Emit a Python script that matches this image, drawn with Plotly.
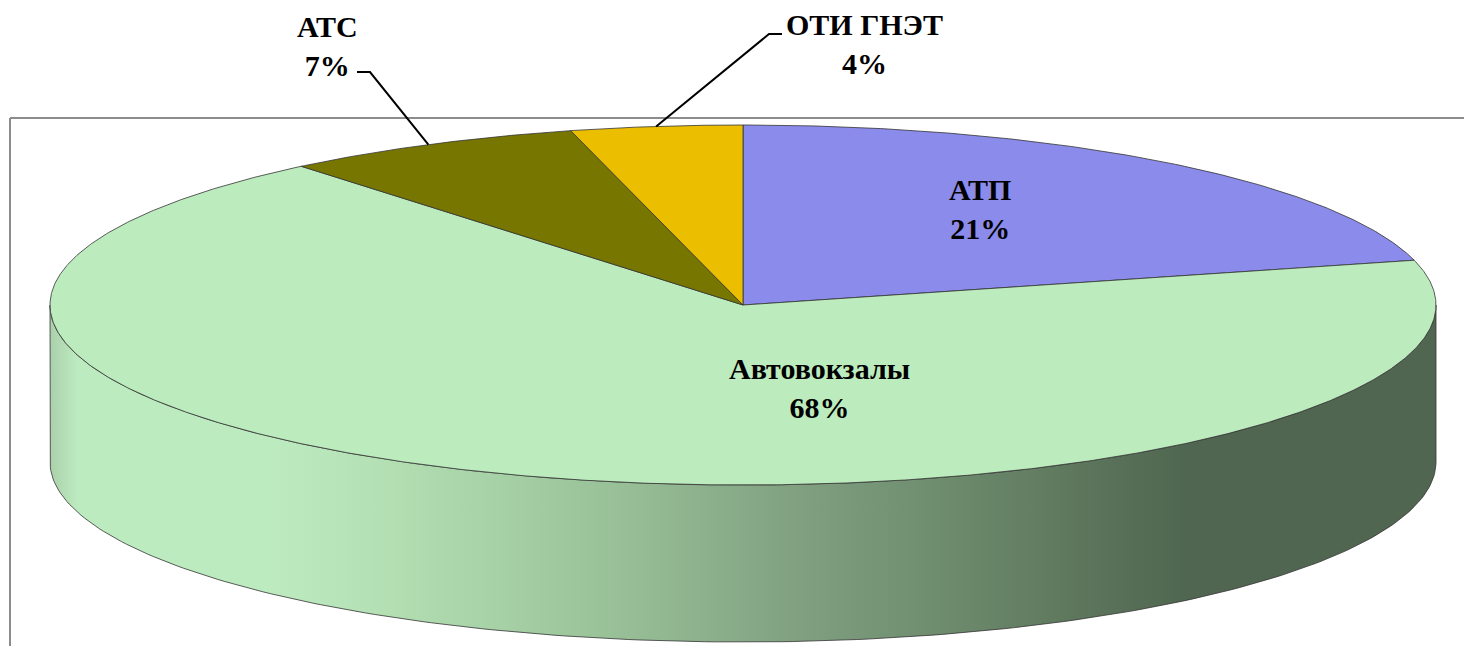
import numpy as np
import plotly.graph_objects as go

# ---- data ----
categories = ["АТП", "Автовокзалы", "АТС", "ОТИ ГНЭТ"]
shares = [21, 68, 7, 4]          # percent, clockwise from 12 o'clock
colors = ["#8B8BEB", "#BCECBE", "#767600", "#EBBE00"]

# ---- layout constants (pixel-like coordinates) ----
W, H = 1464, 646
CX, CY = 743, 305      # centre of top face
A, B = 693, 180        # ellipse radii
DEPTH = 157            # thickness of the pie
OUTLINE = "#333333"


def arc(t0, t1, n=200, dy=0.0):
    t = np.radians(np.linspace(t0, t1, n))
    return CX + A * np.sin(t), CY - B * np.cos(t) + dy


fig = go.Figure()

# ---- side wall (front half, belongs to the large slice) ----
xu, yu = arc(90, 270)
xl, yl = arc(270, 90, dy=DEPTH)
side_x = np.concatenate([xu, xl, xu[:1]])
side_y = np.concatenate([yu, yl, yu[:1]])
fig.add_trace(go.Scatter(
    x=side_x, y=side_y, mode="lines", fill="toself",
    line=dict(color=OUTLINE, width=0.8),
    fillgradient=dict(
        type="horizontal",
        colorscale=[
            [0.0, "rgb(170,208,170)"],
            [0.02, "rgb(189,235,192)"],
            [0.16, "rgb(189,235,192)"],
            [0.25, "rgb(178,222,178)"],
            [0.40, "rgb(154,194,153)"],
            [0.54, "rgb(128,160,128)"],
            [0.69, "rgb(102,130,102)"],
            [0.78, "rgb(86,110,86)"],
            [0.82, "rgb(80,102,80)"],
            [1.0, "rgb(80,102,80)"],
        ],
    ),
    hoverinfo="skip", showlegend=False,
))

# ---- top face slices ----
total = float(sum(shares))
start = 0.0
mids = []
for name, val, col in zip(categories, shares, colors):
    sweep = 360.0 * val / total
    ax, ay = arc(start, start + sweep, n=max(int(sweep * 3), 10))
    px = np.concatenate([[CX], ax, [CX]])
    py = np.concatenate([[CY], ay, [CY]])
    fig.add_trace(go.Scatter(
        x=px, y=py, mode="lines", fill="toself", fillcolor=col,
        line=dict(color=OUTLINE, width=0.8),
        hoverinfo="skip", showlegend=False,
    ))
    mids.append(start + sweep / 2.0)
    start += sweep

# ---- labels ----
FONT = dict(family="Liberation Serif", size=30, color="black")
label_pos = {
    "АТП": (980, 209),
    "Автовокзалы": (819, 388),
    "АТС": (327, 46),
    "ОТИ ГНЭТ": (864, 44),
}
for name, val in zip(categories, shares):
    x, y = label_pos[name]
    fig.add_annotation(x=x, y=y, xref="x", yref="y",
                       text=f"<b>{name}<br>{val}%</b>", showarrow=False,
                       font=FONT, align="center")

# ---- leader lines for the small slices ----
leader_start = {"АТС": (357, 370, 72), "ОТИ ГНЭТ": (782, 769, 34)}
for name, mid in zip(categories, mids):
    if name not in leader_start:
        continue
    x0, x1, y0 = leader_start[name]
    ex = CX + A * np.sin(np.radians(mid))
    ey = CY - B * np.cos(np.radians(mid))
    fig.add_trace(go.Scatter(
        x=[x0, x1, ex], y=[y0, y0, ey], mode="lines",
        line=dict(color="black", width=2),
        hoverinfo="skip", showlegend=False,
    ))

# ---- plot-area frame (top and left edges visible) ----
fig.add_shape(type="line", xref="x", yref="y", x0=10, y0=118, x1=W + 5, y1=118,
              line=dict(color="#8c8c8c", width=2), layer="below")
fig.add_shape(type="line", xref="x", yref="y", x0=10, y0=118, x1=10, y1=H + 5,
              line=dict(color="#8c8c8c", width=2), layer="below")

fig.update_layout(
    width=W, height=H,
    margin=dict(l=0, r=0, t=0, b=0),
    paper_bgcolor="white", plot_bgcolor="white",
    xaxis=dict(range=[0, W], visible=False, fixedrange=True),
    yaxis=dict(range=[H, 0], visible=False, fixedrange=True),
    showlegend=False,
)

fig.write_html("out.html",
               config={"displayModeBar": False},
               post_script="document.body.style.margin='0px';"
                           "document.body.style.overflow='hidden';")
